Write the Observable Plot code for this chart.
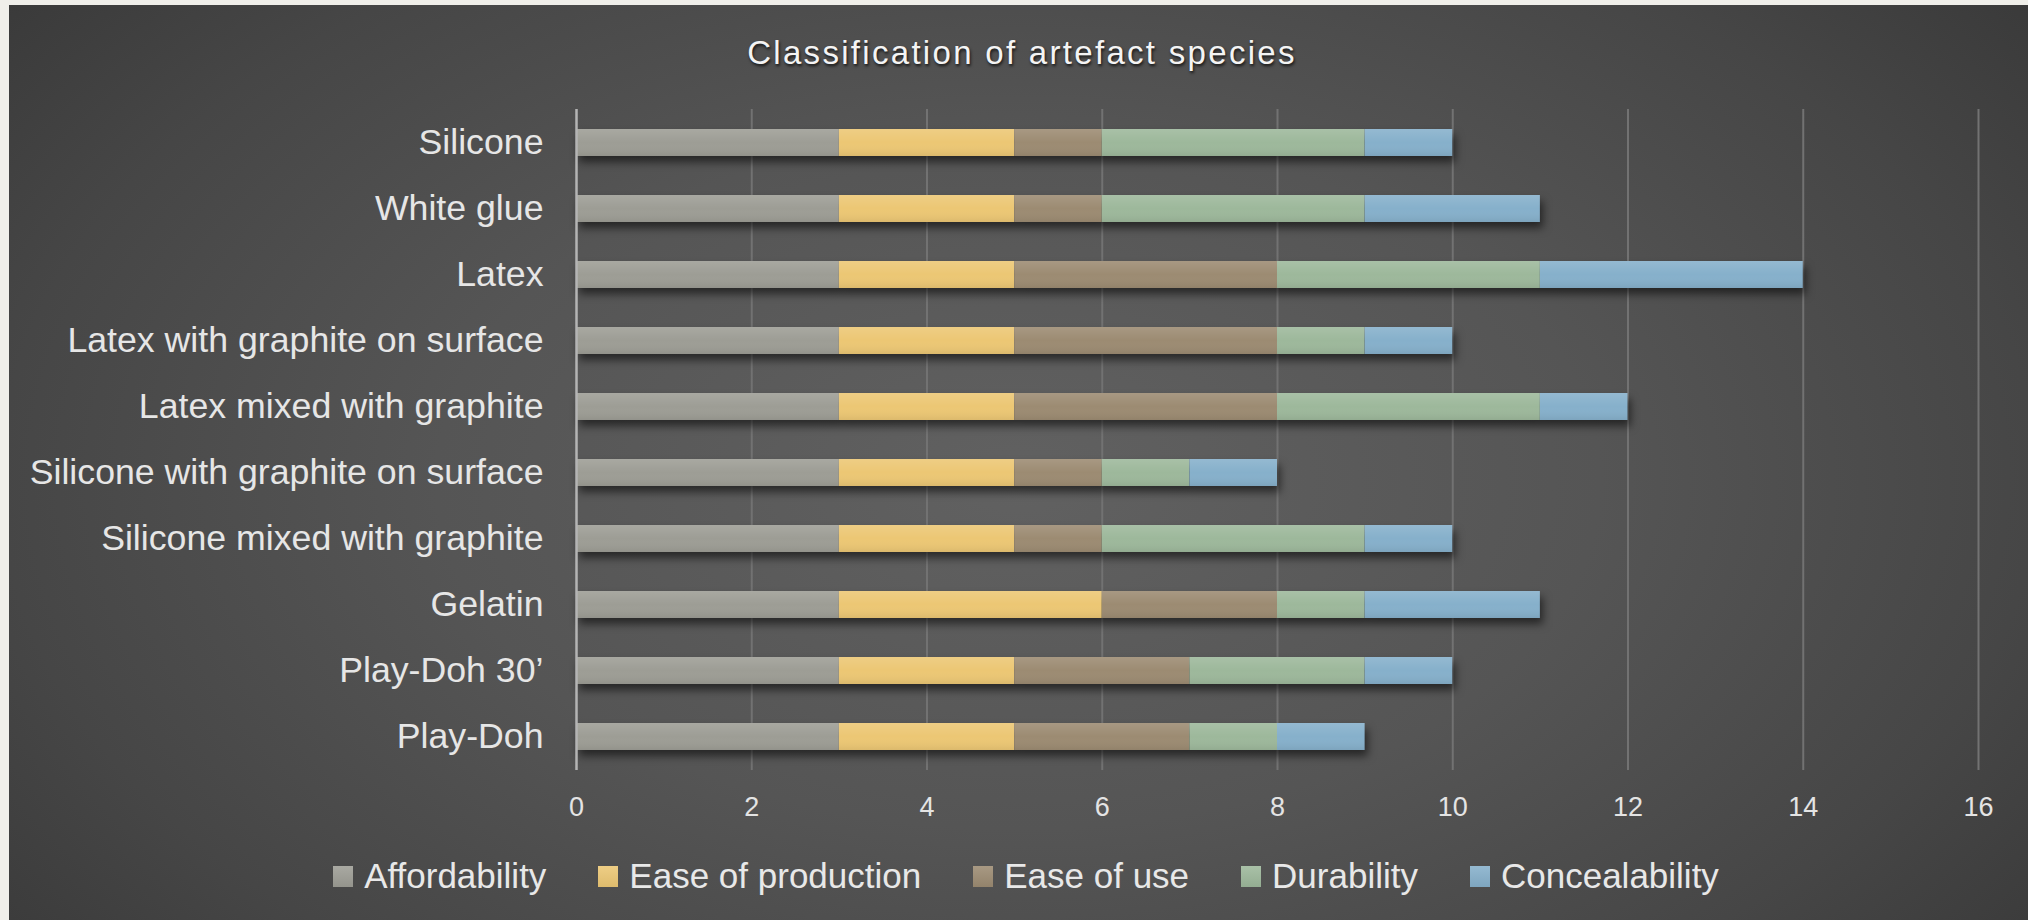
<!DOCTYPE html>
<html>
<head>
<meta charset="utf-8">
<script src="https://cdn.jsdelivr.net/npm/d3@7"></script>
<script src="https://cdn.jsdelivr.net/npm/@observablehq/plot@0.6"></script>
<style>
  html, body { margin: 0; padding: 0; background: #f0efea; }
  #page { position: relative; width: 2028px; height: 920px; overflow: hidden; background: #f0efea; }
  #panel { position: absolute; left: 9px; top: 5px; width: 2019px; height: 915px;
    background: radial-gradient(ellipse 72% 95% at 50% 52%, #616161 0%, #555 40%, #464646 70%, #333 100%); }
  #title { position: absolute; left: 8px; width: 2028px; top: 34px; text-align: center;
    font-family: "Liberation Sans", Arial, sans-serif; font-size: 33px; letter-spacing: 2.3px; color: #f4f4f4;
    text-shadow: 1px 2px 3px rgba(0,0,0,0.75); }
  #chart { position: absolute; left: 0; top: 0; }
  #legend { position: absolute; left: 12px; width: 2028px; top: 856px; display: flex; justify-content: center;
    font-family: "Liberation Sans", Arial, sans-serif; font-size: 35px; color: #e8e8e8; }
  .item { display: flex; align-items: center; margin: 0 26px; }
  .sw { width: 20px; height: 21px; margin-right: 11px; }
</style>
</head>
<body>
<div id="page">
  <div id="panel"></div>
  <div id="title">Classification of artefact species</div>
  <div id="chart"></div>
  <div id="legend"></div>
</div>
<script>
const materials = ["Silicone", "White glue", "Latex", "Latex with graphite on surface", "Latex mixed with graphite",
  "Silicone with graphite on surface", "Silicone mixed with graphite", "Gelatin", "Play-Doh 30’", "Play-Doh"];
const criteria = ["Affordability", "Ease of production", "Ease of use", "Durability", "Concealability"];
const colors = ["#9d9d95", "#ecc774", "#9c8b72", "#9db89b", "#86b0cb"];
const affordability    = [3, 3, 3, 3, 3, 3, 3, 3, 3, 3];
const easeOfProduction = [2, 2, 2, 2, 2, 2, 2, 3, 2, 2];
const easeOfUse        = [1, 1, 3, 3, 3, 1, 1, 2, 2, 2];
const durability       = [3, 3, 3, 1, 3, 1, 3, 1, 2, 1];
const concealability   = [1, 2, 3, 1, 1, 1, 1, 2, 1, 1];
const xTicks = [0, 2, 4, 6, 8, 10, 12, 14, 16];

const series = [affordability, easeOfProduction, easeOfUse, durability, concealability];
const data = [];
materials.forEach((m, i) => criteria.forEach((c, j) => data.push({material: m, criterion: c, value: series[j][i]})));

const font = '"Liberation Sans", Arial, sans-serif';
const plot = Plot.plot({
  width: 2028,
  height: 840,
  marginLeft: 576,
  marginRight: 50,
  marginTop: 109,
  marginBottom: 70,
  style: {background: "transparent", fontFamily: font, color: "#e6e6e6", overflow: "visible"},
  x: {domain: [0, 16], ticks: xTicks, tickSize: 0, tickPadding: 26, label: null, tickFormat: d => String(d)},
  y: {domain: materials, paddingInner: 0.584, paddingOuter: 0.292, tickSize: 0, tickPadding: 33, label: null},
  color: {domain: criteria, range: colors},
  marks: [
    Plot.gridX(xTicks.filter(d => d > 0), {stroke: "#727272", strokeOpacity: 1, strokeWidth: 2}),
    Plot.barX(data, Plot.stackX({x: "value", y: "material", fill: "criterion"})),
    Plot.barX(data, Plot.stackX({x: "value", y: "material", fill: "url(#barShade)", z: "criterion"})),
    Plot.ruleX([0], {stroke: "#b4b4b4", strokeWidth: 2.5}),
    Plot.axisX({ticks: xTicks, tickSize: 0, tickPadding: 26, fontSize: 27, fill: "#e4e4e4", label: null}),
    Plot.axisY({tickSize: 0, tickPadding: 33, fontSize: 35.7, fill: "#e6e6e6", label: null})
  ]
});

// gradient shading for bars
const ns = "http://www.w3.org/2000/svg";
const defs = document.createElementNS(ns, "defs");
defs.innerHTML = `<linearGradient id="barShade" x1="0" y1="0" x2="0" y2="1">
  <stop offset="0" stop-color="#fff" stop-opacity="0.12"/>
  <stop offset="0.5" stop-color="#fff" stop-opacity="0"/>
  <stop offset="1" stop-color="#000" stop-opacity="0.07"/>
</linearGradient>`;
plot.insertBefore(defs, plot.firstChild);
const barGroups = plot.querySelectorAll('g[aria-label="bar"]');
if (barGroups[0]) barGroups[0].style.filter = "drop-shadow(3px 6px 4px rgba(0,0,0,0.55))";
document.getElementById("chart").appendChild(plot);

// legend
const color = plot.scale("color");
const legend = document.getElementById("legend");
criteria.forEach(c => {
  const it = document.createElement("div");
  it.className = "item";
  const sw = document.createElement("div");
  sw.className = "sw";
  sw.style.background = `linear-gradient(to bottom, rgba(255,255,255,0.12), rgba(0,0,0,0.06)), ${color.apply(c)}`;
  const t = document.createElement("span");
  t.textContent = c;
  it.appendChild(sw); it.appendChild(t);
  legend.appendChild(it);
});
</script>
</body>
</html>
